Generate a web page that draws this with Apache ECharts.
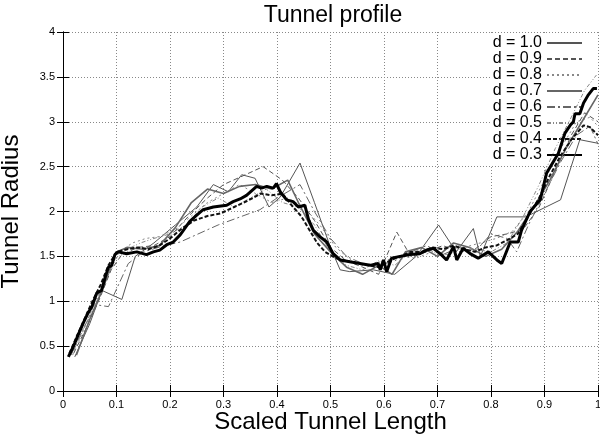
<!DOCTYPE html>
<html>
<head>
<meta charset="utf-8">
<script src="https://cdn.jsdelivr.net/npm/echarts@6/dist/echarts.min.js"></script>
<style>
  html, body { margin: 0; padding: 0; background: #fff; }
  #chart { width: 600px; height: 434px; }
</style>
</head>
<body>
<div id="chart"></div>
<script>
// [scaled length, radius] pairs
const d10 = [[0.022,0.38],[0.05,0.75],[0.073,1.12],[0.110,1.02],[0.135,1.50],[0.17,1.65],[0.21,1.85],[0.25,2.05],[0.281,2.30],[0.309,2.22],[0.334,2.41],[0.359,2.37],[0.385,2.05],[0.406,2.16],[0.443,2.54],[0.47,2.10],[0.50,1.60],[0.518,1.35],[0.536,1.33],[0.58,1.35],[0.62,1.30],[0.66,1.50],[0.702,1.85],[0.735,1.55],[0.767,1.81],[0.78,1.50],[0.811,1.94],[0.865,1.94],[0.93,2.13],[0.966,2.80],[1.0,2.76]];
const d09 = [[0.02,0.42],[0.045,0.72],[0.07,1.05],[0.09,1.35],[0.11,1.52],[0.14,1.60],[0.17,1.62],[0.20,1.72],[0.235,1.95],[0.27,2.15],[0.30,2.30],[0.33,2.38],[0.374,2.50],[0.41,2.35],[0.44,2.15],[0.47,1.90],[0.50,1.60],[0.53,1.45],[0.56,1.38],[0.59,1.30],[0.624,1.77],[0.65,1.50],[0.68,1.55],[0.71,1.62],[0.74,1.55],[0.77,1.58],[0.80,1.72],[0.83,1.75],[0.86,1.80],[0.89,2.05],[0.92,2.45],[0.95,2.85],[0.975,3.10],[1.0,3.00]];
const d08 = [[0.018,0.40],[0.04,0.70],[0.06,1.00],[0.085,1.30],[0.105,1.55],[0.13,1.65],[0.155,1.70],[0.18,1.72],[0.21,1.80],[0.24,1.95],[0.27,2.10],[0.30,2.20],[0.33,2.30],[0.36,2.20],[0.39,2.10],[0.42,2.15],[0.45,2.05],[0.48,1.85],[0.51,1.60],[0.54,1.45],[0.57,1.40],[0.60,1.45],[0.63,1.50],[0.66,1.48],[0.69,1.55],[0.72,1.52],[0.75,1.60],[0.78,1.65],[0.81,1.70],[0.84,1.78],[0.87,2.00],[0.90,2.35],[0.93,2.70],[0.96,3.00],[0.985,3.05],[1.0,2.95]];
const d07 = [[0.025,0.40],[0.05,0.80],[0.075,1.15],[0.10,1.55],[0.12,1.60],[0.15,1.58],[0.18,1.62],[0.21,1.82],[0.24,2.10],[0.27,2.25],[0.30,2.20],[0.33,2.28],[0.36,2.30],[0.39,2.25],[0.42,2.35],[0.44,2.10],[0.47,1.75],[0.50,1.55],[0.53,1.38],[0.56,1.30],[0.59,1.40],[0.615,1.30],[0.64,1.55],[0.67,1.60],[0.70,1.50],[0.73,1.65],[0.76,1.60],[0.79,1.50],[0.82,1.58],[0.85,1.78],[0.88,2.05],[0.91,2.35],[0.94,2.70],[0.97,3.00],[1.0,3.30]];
const d06 = [[0.015,0.40],[0.04,0.72],[0.063,0.96],[0.085,0.94],[0.122,1.42],[0.15,1.55],[0.19,1.62],[0.219,1.66],[0.29,1.85],[0.368,2.02],[0.40,2.15],[0.443,2.30],[0.47,2.00],[0.50,1.70],[0.53,1.50],[0.56,1.42],[0.59,1.40],[0.62,1.45],[0.65,1.55],[0.68,1.62],[0.71,1.52],[0.74,1.60],[0.77,1.55],[0.80,1.75],[0.83,1.70],[0.848,1.55],[0.87,1.85],[0.90,2.20],[0.93,2.55],[0.96,2.85],[0.985,2.95],[1.0,2.75]];
const d05 = [[0.02,0.45],[0.045,0.78],[0.07,1.10],[0.095,1.45],[0.12,1.58],[0.145,1.65],[0.17,1.70],[0.20,1.75],[0.23,1.85],[0.26,2.05],[0.29,2.15],[0.32,2.05],[0.35,2.15],[0.38,2.25],[0.41,2.10],[0.44,2.05],[0.47,1.85],[0.50,1.55],[0.53,1.40],[0.56,1.35],[0.59,1.45],[0.62,1.40],[0.65,1.55],[0.68,1.58],[0.71,1.50],[0.74,1.62],[0.77,1.58],[0.80,1.55],[0.83,1.65],[0.86,1.94],[0.89,2.30],[0.92,2.70],[0.95,3.05],[0.975,3.35],[0.997,3.52]];
const d04 = [[0.012,0.42],[0.025,0.60],[0.04,0.80],[0.055,1.00],[0.07,1.18],[0.085,1.40],[0.10,1.55],[0.12,1.58],[0.14,1.60],[0.16,1.58],[0.18,1.62],[0.20,1.70],[0.22,1.80],[0.245,1.90],[0.27,1.95],[0.295,1.98],[0.32,2.05],[0.345,2.12],[0.37,2.20],[0.39,2.18],[0.41,2.20],[0.43,2.05],[0.445,1.95],[0.46,1.80],[0.475,1.65],[0.49,1.55],[0.51,1.48],[0.53,1.45],[0.55,1.42],[0.57,1.40],[0.59,1.38],[0.61,1.45],[0.63,1.50],[0.65,1.55],[0.67,1.55],[0.69,1.60],[0.71,1.58],[0.73,1.62],[0.75,1.58],[0.77,1.55],[0.79,1.60],[0.81,1.62],[0.83,1.68],[0.85,1.75],[0.87,1.95],[0.89,2.15],[0.91,2.40],[0.93,2.62],[0.95,2.80],[0.973,2.96],[0.985,2.94],[1.0,2.85]];
const d03 = [[0.010,0.38],[0.019,0.49],[0.028,0.62],[0.038,0.76],[0.046,0.86],[0.054,0.94],[0.063,1.09],[0.072,1.12],[0.079,1.27],[0.085,1.38],[0.091,1.40],[0.097,1.52],[0.103,1.55],[0.119,1.53],[0.138,1.55],[0.156,1.52],[0.169,1.55],[0.181,1.57],[0.194,1.63],[0.206,1.66],[0.219,1.74],[0.237,1.89],[0.250,1.96],[0.262,2.02],[0.281,2.05],[0.306,2.07],[0.318,2.11],[0.331,2.14],[0.343,2.18],[0.362,2.28],[0.371,2.26],[0.381,2.28],[0.393,2.26],[0.399,2.31],[0.406,2.22],[0.418,2.13],[0.430,2.11],[0.440,2.05],[0.452,2.07],[0.459,1.91],[0.468,1.79],[0.480,1.72],[0.493,1.66],[0.505,1.53],[0.518,1.46],[0.536,1.44],[0.555,1.42],[0.574,1.40],[0.589,1.42],[0.593,1.35],[0.599,1.46],[0.605,1.33],[0.614,1.48],[0.630,1.50],[0.649,1.52],[0.667,1.53],[0.680,1.57],[0.692,1.59],[0.705,1.53],[0.717,1.46],[0.730,1.61],[0.736,1.46],[0.748,1.59],[0.761,1.53],[0.776,1.48],[0.795,1.55],[0.811,1.46],[0.820,1.42],[0.836,1.66],[0.851,1.66],[0.857,1.79],[0.873,2.00],[0.892,2.13],[0.904,2.43],[0.926,2.65],[0.938,2.87],[0.948,2.96],[0.954,3.00],[0.957,3.09],[0.966,3.09],[0.973,3.21],[0.982,3.30],[0.991,3.37],[0.998,3.37]];

const names = ["d = 1.0", "d = 0.9", "d = 0.8", "d = 0.7", "d = 0.6", "d = 0.5", "d = 0.4", "d = 0.3"];
const values = [d10, d09, d08, d07, d06, d05, d04, d03];
const lineStyles = [
  { color: "#555", width: 1, type: "solid" },
  { color: "#555", width: 1, type: [5, 3] },
  { color: "#888", width: 1, type: [2, 3] },
  { color: "#666", width: 1.6, type: "solid" },
  { color: "#666", width: 1, type: [8, 3, 2, 3] },
  { color: "#888", width: 1, type: [4, 2, 1, 2, 1, 2] },
  { color: "#111", width: 2, type: [4, 2] },
  { color: "#000", width: 3, type: "solid" }
];

const font = "Liberation Sans";
const fmt = (v) => String(+v.toFixed(1));

const chart = echarts.init(document.getElementById("chart"), null, { renderer: "canvas" });

const baseAxis = {
  type: "value",
  axisLine: { show: true, lineStyle: { color: "#000", width: 1 } },
  axisTick: { show: true, inside: true, length: 6, lineStyle: { color: "#000" } }
};

chart.setOption({
  animation: false,
  backgroundColor: "#fff",
  title: {
    text: "Tunnel profile",
    left: 328, top: -1, textAlign: "center",
    textStyle: { fontFamily: font, fontSize: 23, fontWeight: "normal", color: "#000" }
  },
  grid: { left: 63, right: 2, top: 32, bottom: 43, outerBoundsMode: "none" },
  legend: {
    data: names,
    orient: "vertical",
    right: 2, top: 33,
    align: "right",
    z: 1,
    backgroundColor: "#fff",
    padding: [2, 15, 3, 2],
    itemGap: 0,
    itemWidth: 35,
    itemHeight: 12,
    itemStyle: { opacity: 0 },
    textStyle: { fontFamily: font, fontSize: 16, color: "#000", lineHeight: 12 }
  },
  xAxis: [
    Object.assign({}, baseAxis, {
      min: 0, max: 1, interval: 0.1,
      name: "Scaled Tunnel Length",
      nameLocation: "middle", nameGap: 19, nameMoveOverlap: false,
      nameTextStyle: { fontFamily: font, fontSize: 24, color: "#000" },
      axisLabel: { fontFamily: font, fontSize: 11, color: "#000", margin: 8, formatter: fmt },
      splitLine: { show: true, lineStyle: { color: "#888", type: [1, 2] } }
    }),
    Object.assign({}, baseAxis, {
      position: "top", min: 0, max: 1, interval: 0.1,
      axisLabel: { show: false }, splitLine: { show: false }
    })
  ],
  yAxis: [
    Object.assign({}, baseAxis, {
      min: 0, max: 4, interval: 0.5,
      name: "Tunnel Radius",
      nameLocation: "middle", nameGap: 40, nameRotate: 90,
      nameTextStyle: { fontFamily: font, fontSize: 24, color: "#000" },
      axisLabel: { fontFamily: font, fontSize: 11, color: "#000", margin: 8, formatter: fmt },
      splitLine: { show: true, lineStyle: { color: "#888", type: [1, 2] } }
    }),
    Object.assign({}, baseAxis, {
      position: "right", min: 0, max: 4, interval: 0.5,
      axisLabel: { show: false }, splitLine: { show: false }
    })
  ],
  series: names.map((name, i) => ({
    name: name,
    type: "line",
    data: values[i],
    symbol: "none",
    z: 2,
    lineStyle: lineStyles[i],
    itemStyle: { color: lineStyles[i].color }
  }))
});
</script>
</body>
</html>
